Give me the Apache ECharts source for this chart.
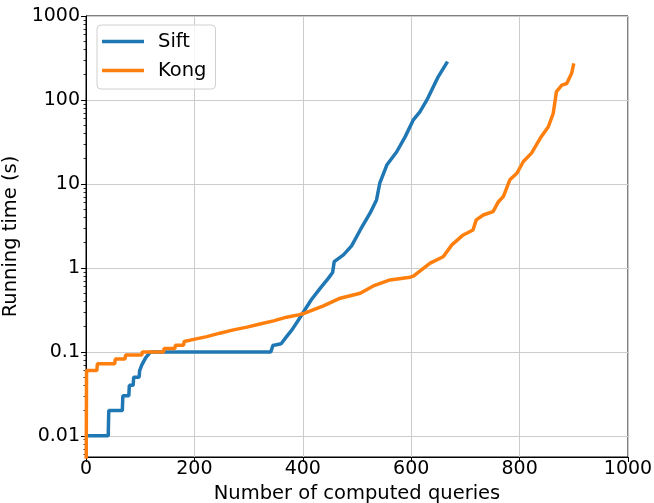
<!DOCTYPE html>
<html>
<head>
<meta charset="utf-8">
<script src="https://cdn.jsdelivr.net/npm/echarts@6/dist/echarts.min.js"></script>
<style>
html,body{margin:0;padding:0;background:#fff;}
#chart{width:654px;height:503px;}
</style>
</head>
<body>
<div id="chart"></div>
<script>
// ---- data ----
const siftQueries = [0, 41, 42, 67, 68, 79, 80, 87, 88, 98, 99, 103, 110, 119, 341, 345, 349, 360, 370, 380, 392, 400, 416, 432, 447, 455, 458, 475, 490, 506, 524, 536, 542, 555, 573, 589, 604, 616, 629, 650, 667];
const siftTimes   = [0.01, 0.01, 0.02, 0.02, 0.03, 0.03, 0.04, 0.04, 0.05, 0.05, 0.06, 0.07, 0.085, 0.1, 0.1, 0.12, 0.121, 0.125, 0.152, 0.183, 0.24, 0.29, 0.42, 0.57, 0.75, 0.88, 1.19, 1.43, 1.83, 2.83, 4.48, 6.45, 10.2, 16.8, 24, 36.6, 58, 72, 100, 190, 286];

const kongQueries = [0, 1, 20, 21, 53, 54, 72, 73, 103, 104, 143, 144, 164, 165, 180, 181, 201, 223, 247, 272, 297, 321, 346, 370, 392, 400, 438, 469, 506, 530, 561, 598, 604, 635, 659, 675, 696, 714, 720, 733, 751, 761, 770, 782, 795, 807, 822, 838, 853, 862, 868, 878, 887, 896, 900];
const kongTimes   = [0.001, 0.06, 0.06, 0.072, 0.072, 0.082, 0.082, 0.092, 0.092, 0.1, 0.1, 0.11, 0.11, 0.12, 0.12, 0.133, 0.142, 0.152, 0.167, 0.183, 0.197, 0.215, 0.234, 0.259, 0.276, 0.284, 0.353, 0.436, 0.50, 0.61, 0.72, 0.775, 0.80, 1.14, 1.36, 1.88, 2.47, 2.83, 3.73, 4.27, 4.68, 6.15, 7.07, 11.2, 13.4, 18.5, 23.3, 34.9, 48, 69, 126, 150, 157, 208, 273];

const seriesNames = ['Sift', 'Kong'];
const xTicks = [0, 200, 400, 600, 800, 1000];
const yTicks = [0.01, 0.1, 1, 10, 100, 1000];
const yMinor = [];
[0.001, 0.01, 0.1, 1, 10, 100].forEach(d => { for (let k = 2; k <= 9; k++) yMinor.push(+(d * k).toPrecision(6)); });

const FONT = 'DejaVu Sans';
const fmt = v => String(Number(Number(v).toPrecision(6)));

const chart = echarts.init(document.getElementById('chart'), null, {renderer: 'canvas'});
chart.setOption({
  animation: false,
  backgroundColor: '#ffffff',
  textStyle: {fontFamily: FONT},
  grid: {left: 86, right: 26, top: 16, bottom: 46, outerBoundsMode: 'none', containLabel: false,
         show: true, borderColor: '#000', borderWidth: 1, backgroundColor: 'transparent'},
  legend: {
    left: 97, top: 25, orient: 'vertical',
    data: seriesNames.map(n => ({name: n, icon: 'rect'})),
    itemWidth: 42, itemHeight: 3.5, itemGap: 8,
    padding: [6, 9, 8, 5],
    borderColor: '#d0d0d0', borderWidth: 1, borderRadius: 4,
    backgroundColor: 'rgba(255,255,255,0.8)',
    textStyle: {fontFamily: FONT, fontSize: 19.5, color: '#000', padding: [0, 0, 0, 9], lineHeight: 21}
  },
  xAxis: {
    type: 'value', min: 0, max: 1000, interval: 200,
    name: 'Number of computed queries', nameLocation: 'middle', nameGap: 19,
    nameTextStyle: {fontFamily: FONT, fontSize: 19.5, color: '#000'},
    axisLine: {show: true, lineStyle: {color: '#000', width: 1}},
    axisTick: {show: true, inside: false, length: 5, lineStyle: {color: '#000'}},
    axisLabel: {color: '#000', fontFamily: FONT, fontSize: 19, margin: 3, formatter: fmt},
    splitLine: {show: true, lineStyle: {color: '#cccccc', width: 1}}
  },
  yAxis: [{
    type: 'log', logBase: 10, min: 0.0056, max: 1000,
    name: 'Running time (s)', nameLocation: 'middle', nameGap: 58,
    nameTextStyle: {fontFamily: FONT, fontSize: 19.5, color: '#000'},
    axisLine: {show: true, lineStyle: {color: '#000', width: 1}},
    axisTick: {show: true, inside: false, length: 5, lineStyle: {color: '#000'}, customValues: yTicks},
    axisLabel: {color: '#000', fontFamily: FONT, fontSize: 19, margin: 6, formatter: fmt, customValues: yTicks},
    splitLine: {show: true, lineStyle: {color: '#cccccc', width: 1}}
  }, {
    type: 'log', logBase: 10, min: 0.0056, max: 1000, position: 'left',
    axisLine: {show: false},
    axisTick: {show: true, inside: false, length: 2.5, lineStyle: {color: '#000', width: 0.8}, customValues: yMinor},
    axisLabel: {show: false},
    splitLine: {show: false}
  }],
  series: [{
    name: 'Sift', type: 'line', showSymbol: false, symbol: 'none', clip: true,
    lineStyle: {color: '#1f77b4', width: 3.5},
    itemStyle: {color: '#1f77b4'},
    data: siftQueries.map((q, i) => [q, siftTimes[i]])
  }, {
    name: 'Kong', type: 'line', showSymbol: false, symbol: 'none', clip: true,
    lineStyle: {color: '#ff7f0e', width: 3.5},
    itemStyle: {color: '#ff7f0e'},
    data: kongQueries.map((q, i) => [q, kongTimes[i]])
  }]
});
</script>
</body>
</html>
